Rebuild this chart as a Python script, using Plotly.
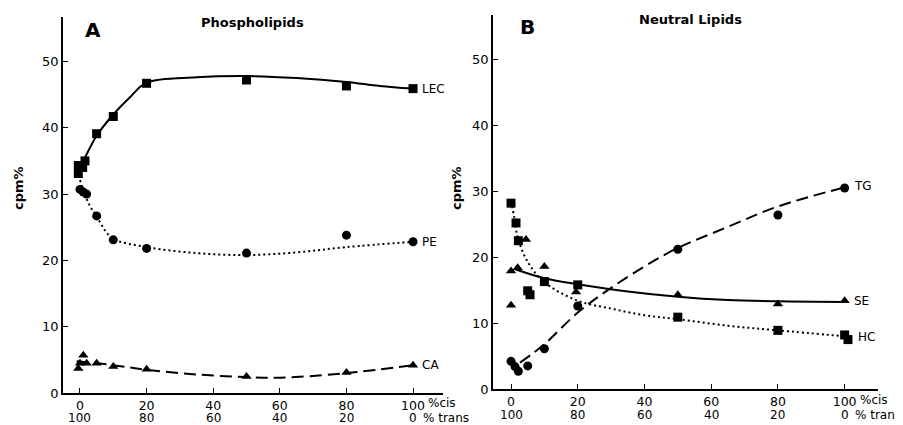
import plotly.graph_objects as go

# ---------------- Data: Panel A (Phospholipids) ----------------
lec_x = [-0.5, -0.5, 0.8, 1.5, 5, 10, 20, 50, 80, 100]
lec_y = [34.3, 33.1, 34.0, 35.0, 39.1, 41.7, 46.7, 47.2, 46.3, 45.9]
lec_fit_x = [0, 2, 5, 10, 15, 20, 35, 50, 65, 80, 90, 100]
lec_fit_y = [34.0, 36.0, 38.8, 42.0, 44.6, 46.8, 47.6, 47.8, 47.5, 46.9, 46.3, 45.9]

pe_x = [0, 1, 2, 5, 10, 20, 50, 80, 100]
pe_y = [30.7, 30.3, 30.0, 26.7, 23.1, 21.8, 21.1, 23.8, 22.8]
pe_fit_x = [0, 1, 3, 5, 8, 10, 20, 35, 50, 65, 80, 100]
pe_fit_y = [32.1, 30.5, 28.2, 26.6, 24.2, 23.2, 22.0, 21.1, 20.8, 21.2, 22.0, 22.8]

ca_x = [-0.5, 0, 1, 2, 5, 10, 20, 50, 80, 100]
ca_y = [3.7, 4.5, 5.7, 4.5, 4.5, 4.0, 3.6, 2.5, 3.1, 4.2]
ca_fit_x = [-1, 10, 20, 35, 50, 60, 80, 100]
ca_fit_y = [4.8, 4.2, 3.5, 2.8, 2.4, 2.3, 3.0, 4.2]

# ---------------- Data: Panel B (Neutral Lipids) ----------------
hc_x = [0, 1.5, 2.2, 5, 5.7, 10, 20, 50, 80, 100, 101]
hc_y = [28.2, 25.2, 22.5, 14.9, 14.3, 16.3, 15.8, 10.9, 8.9, 8.2, 7.5]
hc_fit_x = [0, 1, 2, 5, 10, 20, 30, 40, 50, 65, 80, 100]
hc_fit_y = [28.5, 26.0, 23.0, 19.3, 16.2, 13.4, 12.2, 11.2, 10.6, 9.6, 8.9, 8.0]

se_x = [0, 0, 2, 4.5, 10, 19.5, 50, 80, 100]
se_y = [12.7, 17.9, 18.4, 22.7, 18.6, 14.7, 14.3, 12.9, 13.4]
se_fit_x = [1, 10, 20, 35, 50, 65, 80, 100]
se_fit_y = [18.2, 16.8, 15.9, 14.8, 14.0, 13.5, 13.3, 13.2]

tg_x = [0, 1.2, 2.2, 5, 10, 20, 50, 80, 100]
tg_y = [4.2, 3.4, 2.7, 3.5, 6.1, 12.6, 21.2, 26.4, 30.5]
tg_fit_x = [2.7, 10, 20, 29, 40, 50, 65, 80, 100]
tg_fit_y = [4.0, 6.8, 11.6, 15.0, 18.6, 21.4, 24.6, 27.7, 30.6]

tick_vals = [0, 20, 40, 60, 80, 100]
cis_labels = ["0", "20", "40", "60", "80", "100"]
trans_labels = ["100", "80", "60", "40", "20", "0"]
y_ticks = [0, 10, 20, 30, 40, 50]

FONT = "DejaVu Sans"
W, H = 903, 425
OFF = 8  # page body margin offset


def px(xp):
    return (xp - OFF) / W


def py(yp):
    return 1 - (yp - OFF) / H


fig = go.Figure()

DOT = "2px,3px"
DASH = "12px,6px"


def add_series(x, y, fx, fy, symbol, dash, xa, ya, msize=9):
    fig.add_trace(go.Scatter(x=fx, y=fy, mode="lines", line_shape="spline",
                             line=dict(color="black", width=2, dash=dash),
                             xaxis=xa, yaxis=ya, showlegend=False, hoverinfo="skip"))
    fig.add_trace(go.Scatter(x=x, y=y, mode="markers",
                             marker=dict(symbol=symbol, color="black", size=msize),
                             xaxis=xa, yaxis=ya, showlegend=False))


add_series(lec_x, lec_y, lec_fit_x, lec_fit_y, "square", "solid", "x", "y")
add_series(pe_x, pe_y, pe_fit_x, pe_fit_y, "circle", DOT, "x", "y")
add_series(ca_x, ca_y, ca_fit_x, ca_fit_y, "triangle-up", DASH, "x", "y")
add_series(hc_x, hc_y, hc_fit_x, hc_fit_y, "square", DOT, "x2", "y2")
add_series(se_x, se_y, se_fit_x, se_fit_y, "triangle-up", "solid", "x2", "y2")
add_series(tg_x, tg_y, tg_fit_x, tg_fit_y, "circle", DASH, "x2", "y2")

axis_common = dict(showline=True, linecolor="black", linewidth=1.5, showgrid=False,
                   zeroline=False, ticks="inside", ticklen=5, tickcolor="black",
                   tickwidth=1.2, automargin=False)
yfont = dict(family=FONT, size=13, color="black")
xfont = dict(family=FONT, size=12.5, color="black")

fig.update_layout(
    width=W, height=H, template="none",
    paper_bgcolor="white", plot_bgcolor="white",
    margin=dict(l=0, r=0, t=0, b=0),
    xaxis=dict(domain=[px(63), px(443)], range=[-5.1, 109], tickvals=tick_vals,
               ticktext=cis_labels, anchor="y", ticklabelstandoff=0,
               tickfont=xfont, **axis_common),
    yaxis=dict(domain=[py(393), py(17)], range=[0, 56.7],
               tickvals=y_ticks, anchor="x", tickfont=yfont, **axis_common),
    xaxis2=dict(domain=[px(493), px(878)], range=[-5.4, 110], tickvals=tick_vals,
                ticktext=cis_labels, anchor="y2", ticklabelstandoff=0,
                tickfont=xfont, **axis_common),
    yaxis2=dict(domain=[py(389), py(15)], range=[0, 56.75],
                tickvals=y_ticks, anchor="x2", tickfont=yfont, **axis_common),
)


def ann(text, x, y, xref, yref, size=12, bold=False, xanchor="center", **kw):
    fig.add_annotation(text=("<b>%s</b>" % text) if bold else text, x=x, y=y,
                       xref=xref, yref=yref, showarrow=False, xanchor=xanchor,
                       yanchor="middle", borderpad=0,
                       font=dict(family=FONT, size=size, color="black"), **kw)


# Panel letters and titles
ann("A", px(93), py(30), "paper", "paper", size=20, bold=True)
ann("Phospholipids", px(253), py(22), "paper", "paper", size=13, bold=True)
ann("B", px(527), py(27), "paper", "paper", size=20, bold=True)
ann("Neutral Lipids", px(690), py(20), "paper", "paper", size=13, bold=True)

# y-axis titles
ann("cpm%", px(18), py(188), "paper", "paper", size=13, bold=True, textangle=-90)
ann("cpm%", px(456), py(188), "paper", "paper", size=13, bold=True, textangle=-90)

# Curve labels
ann("LEC", lec_x[-1], lec_y[-1], "x", "y", size=12, xanchor="left", xshift=8)
ann("PE", pe_x[-1], pe_y[-1], "x", "y", size=12, xanchor="left", xshift=8)
ann("CA", ca_x[-1], ca_y[-1], "x", "y", size=12, xanchor="left", xshift=8)
ann("TG", tg_x[-1], tg_y[-1], "x2", "y2", size=12, xanchor="left", xshift=8, yshift=2)
ann("SE", se_x[-1], se_y[-1], "x2", "y2", size=12, xanchor="left", xshift=8)
ann("HC", hc_x[-2], hc_y[-2], "x2", "y2", size=12, xanchor="left", xshift=12, yshift=-2)

# second row of x tick labels (% trans) and the %cis / % trans suffixes
for xr, row1, row2 in (("x", 403, 418), ("x2", 400, 415)):
    for v, lab in zip(tick_vals, trans_labels):
        ann(lab, v, py(row2), xr, "paper", size=12)
    ann("%cis", 100, py(row1), xr, "paper", size=12, xanchor="left", xshift=14)
    ann("% trans", 100, py(row2), xr, "paper", size=12, xanchor="left", xshift=9)

fig.write_html("out.html")
